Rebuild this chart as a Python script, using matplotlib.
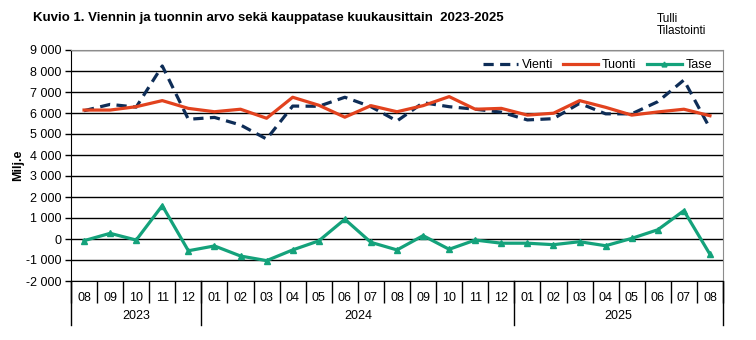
import matplotlib
matplotlib.use("Agg")
import matplotlib.pyplot as plt
import matplotlib.transforms as mtransforms
from matplotlib.ticker import FuncFormatter, MultipleLocator

plt.rcParams["font.family"] = ["Liberation Sans", "DejaVu Sans"]

months = ["08", "09", "10", "11", "12",
          "01", "02", "03", "04", "05", "06", "07", "08", "09", "10", "11", "12",
          "01", "02", "03", "04", "05", "06", "07", "08"]
years = ["2023", "2024", "2025"]
year_counts = [5, 12, 8]

# Milj. e
vienti = [6110, 6410, 6280, 8240, 5700, 5790, 5430, 4760, 6330, 6320, 6750, 6300,
          5620, 6490, 6300, 6180, 6040, 5670, 5730, 6460, 5960, 5960, 6540, 7570, 5270]
tuonti = [6140, 6140, 6300, 6590, 6220, 6060, 6180, 5750, 6750, 6370, 5800, 6350,
          6060, 6350, 6780, 6180, 6220, 5900, 5990, 6590, 6270, 5900, 6050, 6180, 5870]
tase = [-80, 270, -50, 1590, -560, -330, -810, -1030, -520, -90, 940, -160,
        -520, 160, -490, -50, -200, -200, -270, -130, -320, 30, 440, 1350, -730]

c_vienti = "#0e2d57"
c_tuonti = "#e2421e"
c_tase = "#14a27b"

fig = plt.figure(figsize=(7.56, 3.4), dpi=100)
ax = fig.add_axes([71 / 756, 1 - 281 / 340, (723 - 71) / 756, (281 - 50) / 340])

x = list(range(len(months)))
ax.plot(x, vienti, color=c_vienti, lw=2.3, dashes=(3.2, 2.0), label="Vienti")
ax.plot(x, tuonti, color=c_tuonti, lw=2.3, label="Tuonti")
ax.plot(x, tase, color=c_tase, lw=2.3, marker="^", ms=5, label="Tase")

ax.set_xlim(-0.5, len(months) - 0.5)
ax.set_ylim(-2000, 9000)
ax.yaxis.set_major_locator(MultipleLocator(1000))
ax.yaxis.set_major_formatter(FuncFormatter(lambda v, p: f"{int(v):,}".replace(",", " ")))
ax.grid(axis="y", color="black", lw=1)
ax.set_axisbelow(True)
ax.tick_params(axis="y", labelsize=9, length=4, width=1, pad=3)
ax.set_ylabel("Milj.e", fontsize=9, fontweight="bold", labelpad=1)

for side in ["top", "right"]:
    ax.spines[side].set_color("#8c8c8c")
for side in ["left", "bottom"]:
    ax.spines[side].set_color("black")

# month labels centred, separators as minor ticks at the boundaries
ax.set_xticks(x)
ax.set_xticklabels(months, fontsize=9)
ax.tick_params(axis="x", which="major", length=0, pad=8)
ax.set_xticks([i - 0.5 for i in range(len(months) + 1)], minor=True)
ax.tick_params(axis="x", which="minor", length=16, width=1, color="black")

# year separators and labels below the months
trans = mtransforms.blended_transform_factory(ax.transData, ax.transAxes)
edges = [-0.5]
for n in year_counts:
    edges.append(edges[-1] + n)
for e in edges:
    ax.plot([e, e], [0, -44 / 231], color="black", lw=1, transform=trans, clip_on=False)
for i, yr in enumerate(years):
    ax.text((edges[i] + edges[i + 1]) / 2, -35 / 231, yr, transform=trans,
            ha="center", va="center", fontsize=9)

ax.legend(loc="upper right", ncol=3, frameon=False, fontsize=9, handlelength=2.8,
          columnspacing=0.8, handletextpad=0.3, markerscale=0.7,
          bbox_to_anchor=(1.0, 1.01))

fig.text(33 / 756, 1 - 18 / 340,
         "Kuvio 1. Viennin ja tuonnin arvo sekä kauppatase kuukausittain  2023-2025",
         fontsize=9.5, fontweight="bold", va="center")
fig.text(657 / 756, 1 - 25 / 340, "Tulli\nTilastointi", fontsize=8.5, va="center",
         linespacing=1.0)

fig.savefig("out.png", dpi=100)
